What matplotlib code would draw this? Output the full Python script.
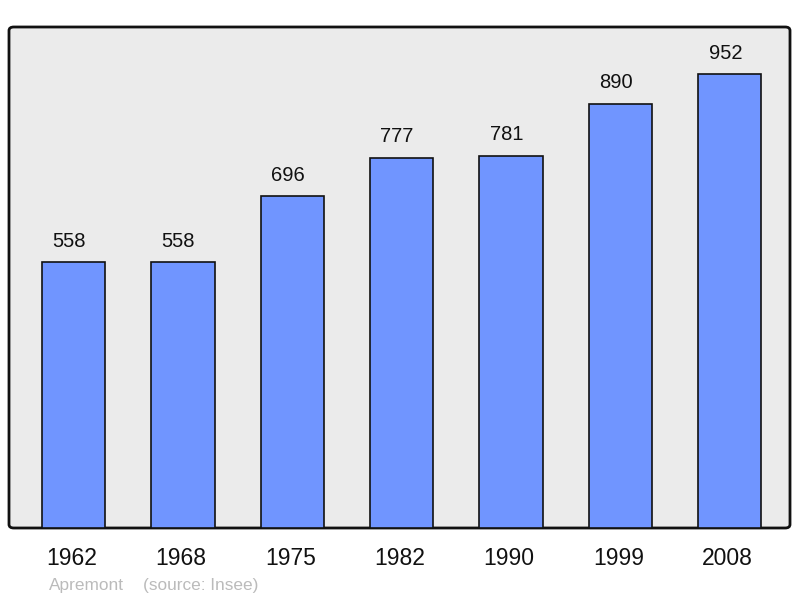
import matplotlib
matplotlib.use("Agg")
import matplotlib.pyplot as plt
from matplotlib.patches import FancyBboxPatch
from matplotlib.transforms import ScaledTranslation

years = ["1962", "1968", "1975", "1982", "1990", "1999", "2008"]
population = [558, 558, 696, 777, 781, 890, 952]

plt.rcParams['font.family'] = ['Liberation Sans', 'DejaVu Sans']

fig = plt.figure(figsize=(8, 5.98), dpi=100)
left, bottom, width, height = 9/800, 70/598, 781/800, 501/598
ax = fig.add_axes([left, bottom, width, height])
ax.patch.set_visible(False)
for s in ax.spines.values():
    s.set_visible(False)

frame = FancyBboxPatch((left, bottom), width, height,
                       boxstyle="round,pad=0,rounding_size=0.006",
                       transform=fig.transFigure, facecolor="#ebebeb",
                       edgecolor="#111111", linewidth=2, zorder=-1)
fig.patches.append(frame)

x = list(range(len(years)))
bars = ax.bar(x, population, width=0.578, color="#7095ff",
              edgecolor="#111111", linewidth=1.2, zorder=2)
for xi, v in zip(x, population):
    ax.annotate(str(v), (xi, v), xytext=(-3.3, 11), textcoords="offset points",
                ha="center", va="baseline", fontsize=14.5, color="#111111")

ax.set_xlim(-0.59, 6.55)
ax.set_ylim(0, 1051)
ax.set_yticks([])
ax.set_xticks(x)
ax.set_xticklabels(years, fontsize=16.5, color="#111111")
ax.tick_params(axis="x", length=0, pad=14)
shift = ScaledTranslation(-1.5/72, 0, fig.dpi_scale_trans)
for lab in ax.get_xticklabels():
    lab.set_transform(lab.get_transform() + shift)

fig.text(49/800, 1 - 590/598, "Apremont", fontsize=12.4, color="#bbbbbb", ha="left", va="baseline")
fig.text(143/800, 1 - 590/598, "(source: Insee)", fontsize=12.4, color="#bbbbbb", ha="left", va="baseline")

fig.savefig("out.png", dpi=100)
